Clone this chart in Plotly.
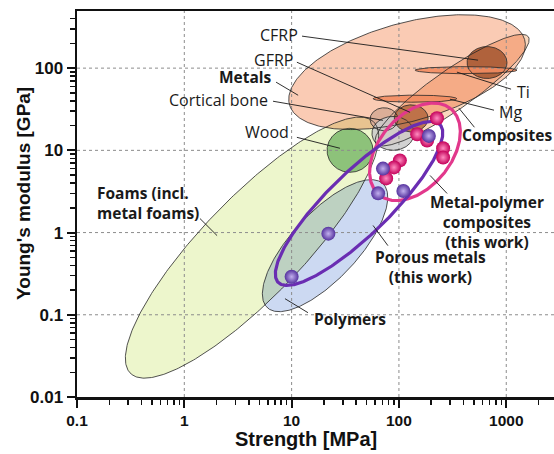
import numpy as np
import plotly.graph_objects as go

# ---------------- data ----------------
# material families: centre strength [MPa], centre modulus [GPa],
# semi-axes (decades) and tilt (deg)
fam_names = ["Foams", "Polymers", "Metals", "Composites", "Wood", "Cortical bone",
             "Unlabelled", "GFRP", "CFRP", "Mg", "Ti"]
fam_strength = [4.28, 20.5, 119, 313, 35, 72.6, 88, 130, 662, 141, 422]
fam_modulus = [0.656, 0.693, 89.4, 54, 10, 23.9, 16.1, 24.5, 117, 42.5, 94.5]
fam_a = [1.63, 0.79, 1.137, 0.867, 0.214, 0.13, 0.196, 0.158, 0.186, 0.39, 0.475]
fam_b = [0.466, 0.31, 0.457, 0.186, 0.205, 0.107, 0.158, 0.126, 0.149, 0.033, 0.033]
fam_angle = [46, 47, 15.5, 35, 0, 0, 0, 0, 0, 0, 0]

# this work envelopes
work_names = ["Metal-polymer composites", "Porous metals"]
work_strength = [141, 42.5]
work_modulus = [9.6, 2.26]
work_a = [0.522, 1.053]
work_b = [0.336, 0.289]
work_angle = [50, 44.3]

# measured samples
porous_strength = [10, 22, 64, 110, 71, 190]
porous_modulus = [0.29, 0.97, 3.0, 3.2, 6.0, 15]
mpc_strength = [226, 148, 183, 258, 258, 102, 90, 76]
mpc_modulus = [24.6, 15.7, 13.2, 10.6, 8.2, 7.55, 6.2, 4.56]

x_ticks = [0.1, 1, 10, 100, 1000]
x_ticktext = ["0.1", "1", "10", "100", "1000"]
y_ticks = [0.01, 0.1, 1, 10, 100]
y_ticktext = ["0.01", "0.1", "1", "10", "100"]

# ---------------- layout geometry ----------------
W, H = 554, 454
ML, MR, MT, MB = 77, 0, 11, 57
XR = [-1.0, 3.445]
YR = [-2.0, 2.695]
aspect = ((W - ML - MR) / (XR[1] - XR[0])) / ((H - MT - MB) / (YR[1] - YR[0]))

fam_fill = {"Foams": (237, 246, 204), "Polymers": (204, 217, 242),
            "Metals": (250, 203, 180), "Composites": (250, 216, 190),
            "Wood": (141, 194, 122), "Cortical bone": (219, 174, 152),
            "Unlabelled": (202, 202, 202), "GFRP": (184, 108, 68),
            "CFRP": (176, 98, 60), "Mg": (242, 140, 96), "Ti": (242, 140, 96)}
fam_alpha = {"Unlabelled": 0.85, "GFRP": 0.92, "Mg": 0.9, "Ti": 0.9}


def ell(i_c, i_m, a, b, ang, n=361):
    t = np.linspace(0, 2 * np.pi, n)
    th = np.radians(ang)
    u, v = a * np.cos(t), b * np.sin(t)
    dx = u * np.cos(th) - v * np.sin(th)
    dy = (u * np.sin(th) + v * np.cos(th)) * aspect
    return np.log10(i_c) + dx, np.log10(i_m) + dy


def inside(lx, ly, c, m, a, b, ang):
    th = np.radians(ang)
    px = lx - np.log10(c)
    py = (ly - np.log10(m)) / aspect
    xr = px * np.cos(th) + py * np.sin(th)
    yr = -px * np.sin(th) + py * np.cos(th)
    return (xr / a) ** 2 + (yr / b) ** 2 <= 1.0


def fam(i):
    return fam_strength[i], fam_modulus[i], fam_a[i], fam_b[i], fam_angle[i]


def intersect(i, j):
    x1, y1 = ell(*fam(i), n=1441)
    x2, y2 = ell(*fam(j), n=1441)
    k1 = inside(x1, y1, *fam(j))
    k2 = inside(x2, y2, *fam(i))
    xs = np.concatenate([x1[k1], x2[k2]])
    ys = np.concatenate([y1[k1], y2[k2]])
    if len(xs) < 3:
        return None
    cx, cy = xs.mean(), ys.mean()
    o = np.argsort(np.arctan2((ys - cy) / aspect, xs - cx))
    xs, ys = xs[o], ys[o]
    return np.append(xs, xs[0]), np.append(ys, ys[0])


def rgba(c, a=1.0):
    return f"rgba({int(c[0])},{int(c[1])},{int(c[2])},{a})"


fig = go.Figure()

# fills of the four big regions
for name in ["Foams", "Polymers", "Metals", "Composites"]:
    i = fam_names.index(name)
    lx, ly = ell(*fam(i))
    fig.add_trace(go.Scatter(x=10 ** lx, y=10 ** ly, mode="lines", fill="toself",
                             fillcolor=rgba(fam_fill[name]), line=dict(width=0),
                             hoverinfo="skip", showlegend=False))

# overlaps (multiplied colours)
for p, q in [("Foams", "Polymers"), ("Metals", "Composites"),
             ("Foams", "Metals"), ("Foams", "Composites")]:
    i, j = fam_names.index(p), fam_names.index(q)
    r = intersect(i, j)
    if r is None:
        continue
    c = tuple(fam_fill[p][k] * fam_fill[q][k] / 255 for k in range(3))
    fig.add_trace(go.Scatter(x=10 ** r[0], y=10 ** r[1], mode="lines", fill="toself",
                             fillcolor=rgba(c), line=dict(width=0),
                             hoverinfo="skip", showlegend=False))

# small regions
for name in ["Wood", "Cortical bone", "Unlabelled", "GFRP", "CFRP", "Mg", "Ti"]:
    i = fam_names.index(name)
    lx, ly = ell(*fam(i))
    fig.add_trace(go.Scatter(x=10 ** lx, y=10 ** ly, mode="lines", fill="toself",
                             fillcolor=rgba(fam_fill[name], fam_alpha.get(name, 1.0)),
                             line=dict(width=0), hoverinfo="skip", showlegend=False))

# grid (dotted, drawn above the coloured regions)
ytop = 10 ** YR[1]
xright = 10 ** XR[1]
gx, gy = [], []
for v in x_ticks[1:]:
    gx += [v, v, None]
    gy += [0.01, ytop, None]
for v in y_ticks[1:]:
    gx += [0.1, xright, None]
    gy += [v, v, None]
fig.add_trace(go.Scatter(x=gx, y=gy, mode="lines",
                         line=dict(color="#8c8c8c", width=1, dash="dot"),
                         hoverinfo="skip", showlegend=False))

# outlines
for i, name in enumerate(fam_names):
    lx, ly = ell(*fam(i))
    fig.add_trace(go.Scatter(x=10 ** lx, y=10 ** ly, mode="lines",
                             line=dict(color="#262626", width=0.8),
                             hoverinfo="skip", showlegend=False))

# this-work envelopes
work_col = ["#E2388C", "#6A2DB2"]
for k in range(2):
    lx, ly = ell(work_strength[k], work_modulus[k], work_a[k], work_b[k], work_angle[k])
    fig.add_trace(go.Scatter(x=10 ** lx, y=10 ** ly, mode="lines",
                             line=dict(color=work_col[k], width=3.2),
                             hoverinfo="skip", showlegend=False))

# leader lines
leaders = [((12.5, 245), (546, 125)), ((11.2, 118), (127, 29)),
           ((7.16, 67.5), (11.5, 46.8)), ((6.71, 39.6), (71, 23.2)),
           ((11.2, 14.4), (28.2, 10.6)), ((1109, 55.5), (347, 89.4)),
           ((769, 30.8), (299, 41.9)), ((505, 19.1), (363, 32.5)),
           ((281, 2.99), (195, 4.95)), ((79, 0.693), (57.4, 1.22)),
           ((14.2, 0.106), (8.67, 0.157)), ((1.4, 1.48), (2.02, 0.918))]
lx_, ly_ = [], []
for s, e in leaders:
    lx_ += [s[0], e[0], None]
    ly_ += [s[1], e[1], None]
fig.add_trace(go.Scatter(x=lx_, y=ly_, mode="lines", line=dict(color="#1a1a1a", width=0.9),
                         hoverinfo="skip", showlegend=False))

# samples
fig.add_trace(go.Scatter(x=mpc_strength, y=mpc_modulus, mode="markers",
                         marker=dict(size=14, color="#C4005A",
                                     gradient=dict(type="radial", color="#FF8CC0"),
                                     line=dict(width=0)),
                         hoverinfo="skip", showlegend=False))
fig.add_trace(go.Scatter(x=porous_strength, y=porous_modulus, mode="markers",
                         marker=dict(size=14, color="#55329E",
                                     gradient=dict(type="radial", color="#C2B0EE"),
                                     line=dict(width=0)),
                         hoverinfo="skip", showlegend=False))

# labels
LF = "Open Sans, Noto Sans, sans-serif"
labels = [  # text, strength, modulus, xanchor, bold
    ("CFRP", 12.0, 252, "right", False),
    ("GFRP", 10.8, 125, "right", False),
    ("Metals", 6.85, 77.6, "right", True),
    ("Cortical bone", 6.3, 40.8, "right", False),
    ("Wood", 9.9, 16.6, "right", False),
    ("Ti", 1208, 50.9, "left", False),
    ("Mg", 820, 29, "left", False),
    ("Composites", 372, 15.2, "left", True),
    ("Metal-polymer<br>composites<br>(this work)", 662, 1.36, "center", True),
    ("Porous metals<br>(this work)", 195, 0.385, "center", True),
    ("Polymers", 15.5, 0.0893, "left", True),
    ("Foams (incl.<br>metal foams)", 0.147, 2.26, "left", True),
]
ann = []
for txt, sx, my, xa, bold in labels:
    ann.append(dict(x=np.log10(sx), y=np.log10(my), xref="x", yref="y",
                    text=f"<b>{txt}</b>" if bold else txt, showarrow=False,
                    xanchor=xa, yanchor="middle", align=xa,
                    font=dict(family=LF, size=15.5 if bold else 16, color="#1a1a1a")))

TF = "Liberation Sans, Arial, sans-serif"
ann.append(dict(x=(306 - ML) / (W - ML - MR), y=-0.11, xref="paper", yref="paper",
                text="<b>Strength [MPa]</b>", showarrow=False, xanchor="center",
                yanchor="middle", font=dict(family=TF, size=20, color="#111")))
ann.append(dict(x=(24 - ML) / (W - ML - MR), y=0.526, xref="paper", yref="paper",
                text="<b>Young's modulus [GPa]</b>", showarrow=False, xanchor="center",
                yanchor="middle", textangle=-90, font=dict(family=TF, size=19, color="#111")))

x_minor = [k * 10.0 ** p for p in range(-1, 4) for k in range(2, 10)]
y_minor = [k * 10.0 ** p for p in range(-2, 3) for k in range(2, 10)]

axis_common = dict(type="log", showgrid=False, zeroline=False, showline=True,
                   linecolor="#111", linewidth=2.5, mirror=True, ticks="outside",
                   tickcolor="#111", tickwidth=2, tickmode="array", automargin=False)

fig.update_layout(
    width=W, height=H, margin=dict(l=ML, r=MR, t=MT, b=MB),
    paper_bgcolor="white", plot_bgcolor="white", showlegend=False,
    annotations=ann,
    xaxis=dict(range=XR, tickvals=x_ticks, ticktext=x_ticktext, ticklen=8,
               tickfont=dict(family=TF, size=15.5, color="#111", weight="bold"),
               minor=dict(tickvals=x_minor, ticks="outside", ticklen=5, tickwidth=1.5,
                          tickcolor="#111", showgrid=False),
               **axis_common),
    yaxis=dict(range=YR, tickvals=y_ticks, ticktext=y_ticktext, ticklen=8,
               tickfont=dict(family=TF, size=17, color="#111", weight="bold"),
               minor=dict(tickvals=y_minor, ticks="outside", ticklen=5, tickwidth=1.5,
                          tickcolor="#111", showgrid=False),
               **axis_common),
)

fig.write_html("out.html", config={"displayModeBar": False, "staticPlot": True},
               post_script="document.body.style.margin='0';document.body.style.overflow='hidden';")
